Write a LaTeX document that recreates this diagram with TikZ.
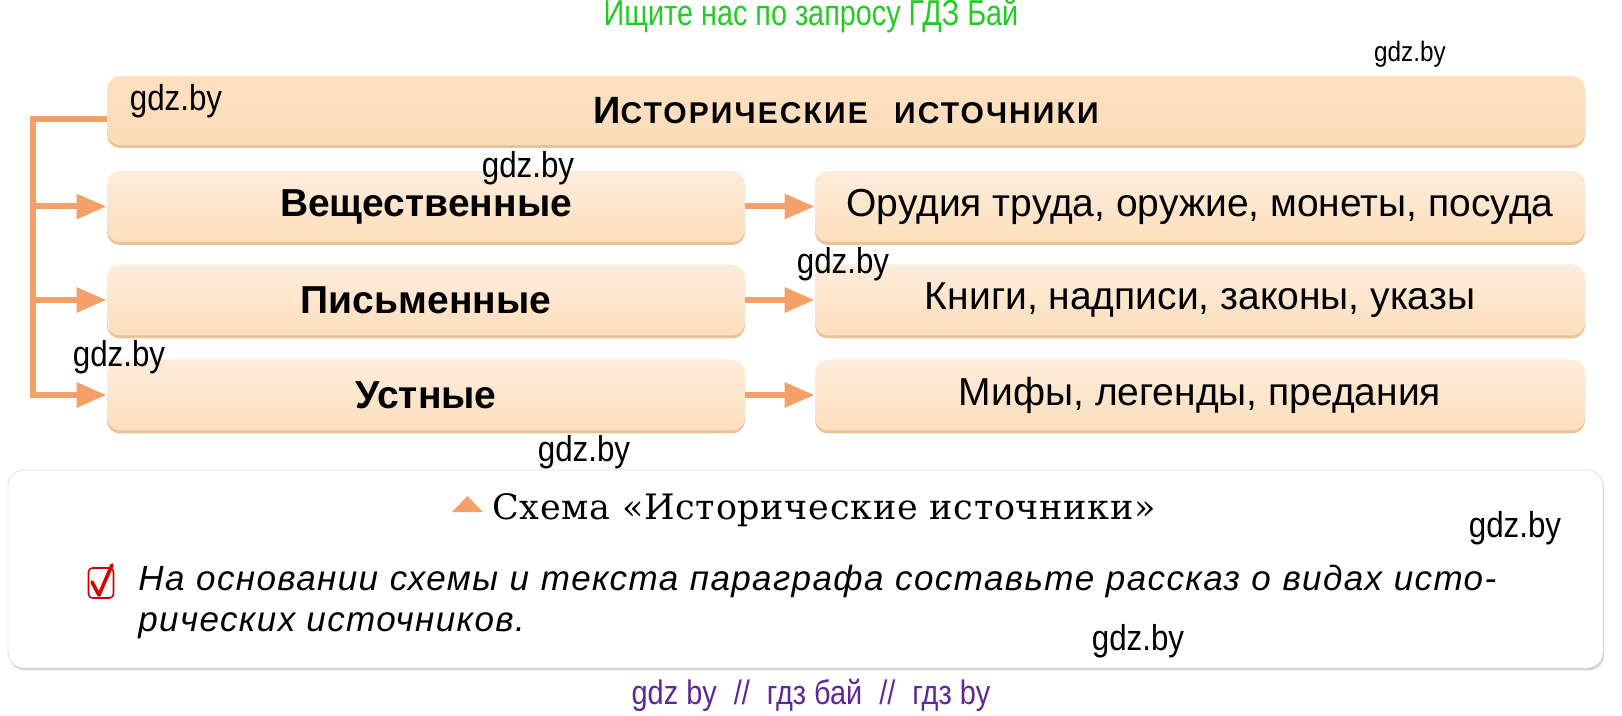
\documentclass[tikz,border=0pt]{standalone}
\usepackage{fontspec}
\setmainfont{Liberation Sans}
\newfontfamily\capfont{DejaVu Serif}
\usetikzlibrary{arrows.meta,shadows}

\definecolor{peach}{RGB}{252,222,188}
\definecolor{peachlight}{RGB}{253,237,220}
\definecolor{peachdark}{RGB}{232,194,154}
\definecolor{linkcol}{RGB}{244,160,105}
\definecolor{wmgreen}{RGB}{34,204,34}
\definecolor{wmpurple}{RGB}{96,40,150}

\newcommand{\boxfont}{\fontsize{19.5}{22}\selectfont}
\newcommand{\wmtext}[1]{\scalebox{0.87}[1]{#1}}

\tikzset{
  srcbox/.style={rounded corners=6.5pt, draw=none, inner sep=0pt,
    top color=peachlight, bottom color=peach,
    drop shadow={shadow xshift=0pt, shadow yshift=-1.5pt, fill=peachdark, opacity=1},
    minimum height=35.5pt, font=\boxfont},
  kindbox/.style={srcbox, minimum width=319pt, font=\boxfont\bfseries},
  examplebox/.style={srcbox, minimum width=385pt},
  link/.style={draw=linkcol, line width=3pt},
  arr/.style={link, -{Triangle[length=15pt,width=12pt]}},
  wm/.style={inner sep=0pt, font=\fontsize{18}{20}\selectfont},
}

\begin{document}
\begin{tikzpicture}[x=0.5pt, y=-0.5pt]
        \useasboundingbox (0,0) rectangle (1622,716);

        % header
        \node[inner sep=0pt, text=wmgreen, font=\fontsize{18}{20}\selectfont] (search) at (811,16)
            {\scalebox{0.8}[1]{Ищите нас по запросу ГДЗ Бай}};

        % title
        \node[srcbox, minimum width=739pt, minimum height=34.5pt,
              top color=peach!85!peachlight, bottom color=peach!95!peachdark] (title) at (846,110.5)
            {\bfseries\addfontfeatures{LetterSpace=7}{\fontsize{19}{20}\selectfont И}{\fontsize{15}{15}\selectfont СТОРИЧЕСКИЕ\hspace{8pt} ИСТОЧНИКИ}};

        % kinds of sources
        \node[kindbox] (vesch) at (426,206.5) {Вещественные};
        \node[kindbox] (pism) at (426,300) {Письменные};
        \node[kindbox] (ustn) at (426,395) {Устные};

        % examples
        \node[examplebox] (orud) at (1200,206.5) {Орудия труда, оружие, монеты, посуда};
        \node[examplebox] (knig) at (1200,300) {Книги, надписи, законы, указы};
        \node[examplebox] (mify) at (1200,395) {Мифы, легенды, предания};

        % connectors
        \coordinate (trunk) at (33,119);
        \draw[arr] (title.west |- trunk) -- (trunk) |- (ustn.west);
        \draw[arr] (trunk |- vesch) -- (vesch.west);
        \draw[arr] (trunk |- pism) -- (pism.west);
        \draw[arr] (vesch.east) -- (orud.west);
        \draw[arr] (pism.east) -- (knig.west);
        \draw[arr] (ustn.east) -- (mify.west);

        % caption panel
        \node[draw=black!12, fill=white, rounded corners=8pt, minimum width=797.5pt, minimum height=99pt,
              drop shadow={shadow xshift=0.6pt, shadow yshift=-1.2pt, fill=black!25, opacity=0.7}] (panel) at (805.5,569) {};
        \fill[linkcol] (452,512) -- (467.5,496) -- (483,512) -- cycle;
        \node[anchor=west, inner sep=0pt, font=\capfont\fontsize{17.5}{20}\selectfont] (caption) at (492,510)
            {\addfontfeatures{LetterSpace=2}Схема «Исторические источники»};

        % task
        \node[draw=red!80!black, rounded corners=2pt, line width=0.8pt, minimum width=12.5pt, minimum height=15pt,
              inner sep=0pt] (check) at (101,583) {};
        \draw[red!85!black, line width=1.8pt, line cap=round, line join=round] (92,582) -- (99,595) -- (112,565);
        \node[anchor=west, inner sep=0pt, font=\itshape\fontsize{17.5}{20}\selectfont] (task1) at (138,581)
            {\addfontfeatures{LetterSpace=4}\makebox[679pt][s]{На основании схемы и текста параграфа составьте рассказ о видах исто-}};
        \node[anchor=west, inner sep=0pt, font=\itshape\fontsize{17.5}{20}\selectfont] (task2) at (138,626)
            {\addfontfeatures{LetterSpace=4}рических источников.};

        % watermarks
        \node[wm, font=\fontsize{14}{16}\selectfont] (wm1) at (1410,54) {\wmtext{gdz.by}};
        \node[wm] (wm2) at (176,101) {\wmtext{gdz.by}};
        \node[wm] (wm3) at (528,168) {\wmtext{gdz.by}};
        \node[wm] (wm4) at (843,264) {\wmtext{gdz.by}};
        \node[wm] (wm5) at (119,357) {\wmtext{gdz.by}};
        \node[wm] (wm6) at (584,452) {\wmtext{gdz.by}};
        \node[wm] (wm7) at (1515,528) {\wmtext{gdz.by}};
        \node[wm] (wm8) at (1138,641) {\wmtext{gdz.by}};

        % footer
        \node[inner sep=0pt, text=wmpurple, font=\fontsize{17}{19}\selectfont] (footer) at (811,695)
            {\scalebox{0.85}[1]{gdz by\hspace{10pt}//\hspace{10pt}гдз бай\hspace{10pt}//\hspace{10pt}гдз by}};
\end{tikzpicture}
\end{document}
